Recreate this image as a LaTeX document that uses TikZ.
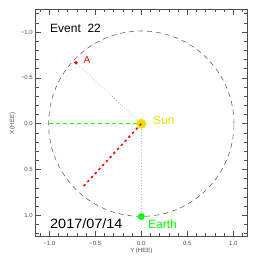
\documentclass[tikz,border=0pt]{standalone}
\usepackage{fontspec}
\setmainfont{Liberation Sans}
\definecolor{pgreen}{rgb}{0,1,0}
\definecolor{pyellow}{rgb}{0.9,0.9,0}
\definecolor{axgray}{rgb}{0.31,0.31,0.31}
\definecolor{dotgray}{rgb}{0.74,0.74,0.74}
\tikzset{
  axisbox/.style={draw=axgray, line width=0.7pt},
  tickmark/.style={draw=axgray, line width=0.6pt},
  ticklabel/.style={font=\fontsize{6}{7}\selectfont, text=axgray, inner sep=0pt},
  orbit/.style={circle, draw=black!60, line width=0.6pt, dash pattern=on 5pt off 4pt, inner sep=0pt, minimum size=185.4pt},
  refline/.style={draw=pgreen, line width=1.5pt, dash pattern=on 4pt off 3pt},
  cmeline/.style={draw=red, line width=1.5pt, dash pattern=on 2.5pt off 3pt},
  sightline/.style={draw=dotgray, line width=0.7pt, dash pattern=on 0.8pt off 2pt},
  biglabel/.style={font=\fontsize{12}{14}\selectfont, inner sep=0pt, anchor=base west}
}
\begin{document}
\begin{tikzpicture}[x=1pt,y=-1pt]
\useasboundingbox (0,0) rectangle (258,258);
\fill[white] (0,0) rectangle (258,258);
\begin{scope}[shift={(141.3,123.7)}, x=92pt, y={(0pt,-91.7pt)}]
  % axis box
  \draw[axisbox] (-1.15,-1.25) rectangle (1.15,1.23);
  % x ticks
  \foreach \i in {-11,...,11} {
    \pgfmathsetmacro\xv{\i/10}
    \pgfmathsetmacro\len{ifthenelse(mod(\i,5)==0,5.5,3)}
    \draw[tickmark] (\xv,-1.25) -- ++(0pt,-\len pt);
    \draw[tickmark] (\xv,1.23) -- ++(0pt,\len pt);
  }
  % y ticks
  \foreach \i in {-12,...,12} {
    \pgfmathsetmacro\yv{\i/10}
    \pgfmathsetmacro\len{ifthenelse(mod(\i,5)==0,5.5,3)}
    \draw[tickmark] (-1.15,\yv) -- ++(\len pt,0pt);
    \draw[tickmark] (1.15,\yv) -- ++(-\len pt,0pt);
  }
  % tick labels
  \foreach \v/\t in {-1/{−1.0},-0.5/{−0.5},0/{0.0},0.5/{0.5},1/{1.0}} {
    \node[ticklabel, anchor=north] at ([yshift=-5pt]\v,1.23) {\t};
    \node[ticklabel, anchor=east] at ([xshift=-2.5pt]-1.15,\v) {\t};
  }
  \node[ticklabel, anchor=north] (ylab) at ([yshift=-11.5pt]0,1.23) {Y (HEE)};
  \node[ticklabel, anchor=south, rotate=90] (xlab) at ([xshift=-20pt]-1.15,0) {X (HEE)};

  % bodies
  \coordinate (sunc) at (0,0);
  \coordinate (refstart) at (-1.0,0);
  \coordinate (cmeend) at (-0.645,0.70);
  \node[orbit] (orb) at (sunc) {};
  \node[circle, fill=red, inner sep=0pt, minimum size=3.8pt] (A) at (-0.71,-0.665) {};
  \node[circle, fill=pgreen, inner sep=0pt, minimum size=7pt] (earth) at (0,1.012) {};
  \draw[sightline] (sunc) -- (A.center);
  \draw[sightline] (sunc) -- (earth.center);
  \draw[refline] (refstart) -- (sunc);
  \node[circle, fill=pyellow, inner sep=0pt, minimum size=10pt] (sunball) at (sunc) {};
  \draw[cmeline] (sunc) -- (cmeend);
\end{scope}
% labels
\node[biglabel] (ev) at (50,32.3) {Event~~22};
\node[biglabel, font=\fontsize{13.5}{15}\selectfont, xscale=1.07] (date) at (50,228) {2017/07/14};
\node[biglabel, text=pyellow] (sunlab) at (153,124.5) {Sun};
\node[biglabel, text=red, font=\fontsize{10}{12}\selectfont] (alab) at (83.5,63.3) {A};
\node[biglabel, text=pgreen] (earthlab) at (148,228.5) {Earth};
\end{tikzpicture}
\end{document}
